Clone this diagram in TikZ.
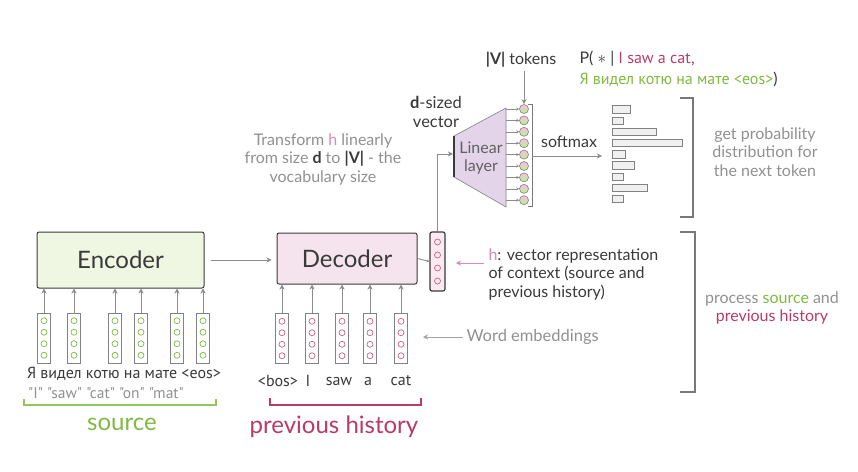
\documentclass[tikz,border=0pt]{standalone}
\usepackage{fontspec}
\setmainfont{Lato}
\newfontfamily\tok{PT Sans}
\usetikzlibrary{arrows.meta}
\definecolor{tdark}{RGB}{58,58,58}
\definecolor{tgray}{RGB}{145,145,145}
\definecolor{agray}{RGB}{140,140,140}
\definecolor{bgray}{RGB}{120,120,120}
\definecolor{vgray}{RGB}{130,130,130}
\definecolor{grn}{RGB}{128,186,65}
\definecolor{mag}{RGB}{185,60,100}
\definecolor{pinkh}{RGB}{214,140,185}
\definecolor{encfill}{RGB}{239,246,226}
\definecolor{decfill}{RGB}{245,228,238}
\definecolor{linfill}{RGB}{228,212,234}
\definecolor{hfill}{RGB}{251,234,242}
\definecolor{ctop}{RGB}{243,196,214}
\definecolor{cbot}{RGB}{200,230,160}
\definecolor{barfill}{RGB}{240,240,240}
\begin{document}
\begin{tikzpicture}[x=1pt,y=-1pt,
  arr/.style={draw=agray, line width=0.9pt, -{Stealth[length=5pt,width=5pt,inset=1.5pt]}},
  sarr/.style={draw=agray, line width=0.6pt, -{Stealth[length=3pt,width=3pt,inset=1pt]}},
  parr/.style={draw=pinkh, line width=0.9pt, -{Stealth[length=5pt,width=5pt,inset=1.5pt]}},
  brk/.style={draw=bgray, line width=1.1pt},
  bigbox/.style={draw=tdark, line width=1pt, rounded corners=2pt, minimum height=53pt, text=tdark, font=\fontsize{24}{28}\selectfont},
  vecbox/.style={draw=vgray, fill=white, line width=0.8pt, minimum width=13pt, minimum height=50pt, inner sep=0pt},
  gdot/.style={circle, draw=grn, line width=0.7pt, minimum size=6pt, inner sep=0pt},
  pdot/.style={circle, draw=mag!80, line width=0.7pt, minimum size=6pt, inner sep=0pt},
  ocirc/.style={circle, draw=vgray, line width=0.6pt, fill=ctop, minimum size=9pt, inner sep=0pt,
     path picture={\fill[cbot] (path picture bounding box.west) rectangle (path picture bounding box.south east);}},
  bar/.style={draw=vgray, fill=barfill, line width=0.8pt, minimum height=7.5pt, inner sep=0pt, anchor=west},
  desc/.style={text=tgray, font=\fontsize{16}{18.5}\selectfont, align=center},
  ddesc/.style={text=tdark, font=\fontsize{16}{18.5}\selectfont, align=center},
  tokt/.style={text=tdark, font=\tok\fontsize{16}{18}\selectfont, inner sep=0pt},
  gloss/.style={text=tgray, font=\tok\fontsize{15.5}{17}\selectfont, inner sep=0pt}
]
\useasboundingbox[fill=white] (0,0) rectangle (858,471);

% Encoder / Decoder
\node[bigbox, fill=encfill, minimum width=167pt, minimum height=56pt] (enc) at (120.5,260) {Encoder};
\node[bigbox, fill=decfill, minimum width=140pt, minimum height=51pt] (dec) at (347,258.5) {Decoder};
\draw[arr, shorten <=6pt, shorten >=5pt] (enc.east) -- (enc.east -| dec.west);

% source vectors
\foreach \x [count=\i] in {44,74,115,141,177,203} {
  \node[vecbox] (ev\i) at (\x,338) {};
  \foreach \k in {1,...,4} \node[gdot] (ev\i c\k) at (\x,{309.25+11.5*\k}) {};
  \draw[arr] (ev\i.north) -- (ev\i.north |- enc.south);
}
% target vectors
\foreach \x [count=\i] in {282,312,342,370,401} {
  \node[vecbox] (dv\i) at (\x,338.5) {};
  \foreach \k in {1,...,4} \node[pdot] (dv\i c\k) at (\x,{309.75+11.5*\k}) {};
  \draw[arr] (dv\i.north) -- (dv\i.north |- dec.south);
}

% tokens
\node[tokt] (srcw) at (124,374) {Я видел котю на мате <eos>};
\node[gloss] (srcg) at (106,393) {"I" "saw" "cat" "on" "mat"};
\node[tokt] (tw1) at (278,381) {<bos>};
\node[tokt] (tw2) at (308,381) {I};
\node[tokt] (tw3) at (339,381) {saw};
\node[tokt] (tw4) at (368,381) {a};
\node[tokt] (tw5) at (401,381) {cat};

% brackets below
\draw[brk, draw=grn!85] (24,399) -- (24,405) -- (216,405) -- (216,399);
\node[text=grn, font=\fontsize{24}{28}\selectfont] (srclab) at (122,424) {source};
\draw[brk, draw=mag] (270,398) -- (270,405) -- (421,405) -- (421,398);
\node[text=mag, font=\fontsize{24}{28}\selectfont] (histlab) at (334,427) {previous history};

% word embeddings
\node[desc, anchor=west, font=\fontsize{16.5}{18.5}\selectfont] (we) at (463,337) {Word embeddings};
\draw[arr, draw=agray!80] (we.west) -- ++(-40,0) coordinate (weend);

% h vector
\node[draw=tdark, fill=hfill, line width=1.2pt, rounded corners=2pt, minimum width=15pt, minimum height=59pt, inner sep=0pt] (hv) at (437.5,261.5) {};
\foreach \k in {1,...,4} \node[pdot, fill=hfill] (hc\k) at (437.5,{229+13*\k}) {};
\draw[sarr, line width=0.9pt] (dec.east) -- (hv.west);
\node[ddesc, anchor=west, align=left] (htxt) at (485,274) {\textcolor{pinkh}{h}: vector representation\\of context (source and\\previous history)};
\coordinate (hA) at (484,263);
\coordinate (hB) at (456,263);
\draw[parr] (hA) -- (hB);

% Linear layer
\filldraw[fill=linfill, draw=vgray, line width=0.6pt] (454,136) -- (506,108) -- (506,207) -- (454,177) -- cycle;
\draw[tdark, line width=1.8pt] (454,136) -- (454,177);
\node[text=tdark!80, font=\fontsize{16}{18.5}\selectfont, align=center] (lin) at (481,158) {Linear\\layer};
\coordinate (linL) at (453,154);
\coordinate (linR) at (506,158);
\draw[arr] (hv.north) |- (linL);

\foreach \i in {1,...,9} {
  \node[ocirc] (o\i) at (524,{109+11.4*(\i-1)}) {};
  \draw[sarr] (o\i.west -| linR) -- (o\i.west);
}
\draw[brk, line width=0.8pt] (528,104) -- (532,104) -- (532,206) -- (528,206);
\coordinate (sm1) at (532,156);
\coordinate (sm2) at (602,156);
\draw[arr] (sm1) -- (sm2);
\node[ddesc] (smlab) at (569,142) {softmax};

\node[ddesc] (vt) at (521,60) {\textbf{|V|} tokens};
\draw[arr] (vt.south -| o1) -- (o1.north);

\node[ddesc, font=\fontsize{16.5}{18.5}\selectfont] (ds) at (436,112) {\textbf{d}-sized\\vector};

\node[desc] (trans) at (323,159) {Transform \textcolor{pinkh}{h} linearly\\from size \textcolor{tdark}{\textbf{d}} to \textcolor{tdark}{\textbf{|V|}} - the\\vocabulary size};

% bars
\foreach \w [count=\i] in {18,11,44,70,13,22,11,35,11} {
  \node[bar, minimum width=\w pt] (b\i) at (612,{109.5+11.2*(\i-1)}) {};
}

% P text
\node[text=tdark, font=\fontsize{16}{21}\selectfont, align=left, anchor=west] (ptxt) at (576,69)
 {P( $\ast$ | \textcolor{mag}{\tok I saw a cat,}\\\textcolor{grn}{\tok Я видел котю на мате <eos>})};

% right brackets
\draw[brk] (680,98) -- (693,98) -- (693,217) -- (680,217);
\node[desc] (prob) at (765,152) {get probability\\distribution for\\the next token};
\draw[brk] (680,232) -- (695,232) -- (695,392) -- (680,392);
\node[desc] (proc) at (772,308) {process \textcolor{grn}{source} and\\\textcolor{mag}{previous history}};
\end{tikzpicture}
\end{document}
